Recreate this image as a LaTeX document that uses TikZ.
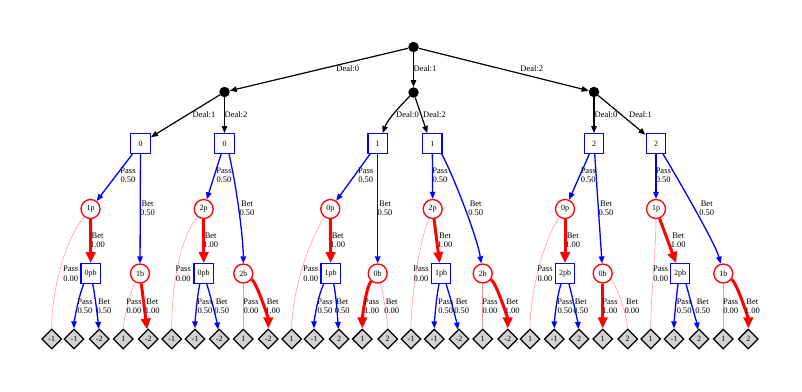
\documentclass[tikz,border=0pt]{standalone}
\usepackage{fontspec}
\setmainfont{Liberation Serif}
\usetikzlibrary{arrows.meta,shapes.geometric}
\newcommand\elab[3]{\node[lab] at (#1,#2) {#3};}
\begin{document}
\begin{tikzpicture}[x=1pt,y=-1pt,
  chance/.style={circle,fill=black,minimum size=10.5pt,inner sep=0pt},
  sq/.style={rectangle,draw=blue,line width=1.4pt,fill=white,minimum width=19.5pt,minimum height=19.5pt,inner sep=0pt,font=\fontsize{8}{9}\selectfont},
  rc/.style={circle,draw=red,line width=1.3pt,fill=white,minimum size=19pt,inner sep=0pt,font=\fontsize{8}{9}\selectfont},
  leaf/.style={diamond,draw=black,fill={rgb,255:red,211;green,211;blue,211},line width=1.3pt,minimum width=20pt,minimum height=20pt,inner sep=0pt,font=\fontsize{8}{9}\selectfont},
  lab/.style={align=center,inner sep=0pt,font=\fontsize{8.5}{9.3}\selectfont},
  dealE/.style={draw=black,line width=1.2pt,-{Triangle[length=7pt,width=5.5pt]}},
  blueE/.style={draw=blue,line width=1.3pt,-{Triangle[length=7pt,width=5.5pt]}},
  redE/.style={draw=red,line width=3pt,-{Triangle[length=11pt,width=9.5pt]}},
  pinkE/.style={draw={rgb,255:red,255;green,150;blue,150},line width=0.55pt}
]
\useasboundingbox (0,0) rectangle (802,391);
% chance nodes
\node[chance] (root) at (413.5,47) {};
\node[chance] (cL) at (224.5,92) {};
\node[chance] (cM) at (413.5,92.5) {};
\node[chance] (cR) at (594,92) {};
% player 0 first decision
\node[sq] (sA) at (140.5,143.5) {0};
\node[sq] (sB) at (224.5,143.5) {0};
\node[sq] (sC) at (377.7,143.5) {1};
\node[sq] (sD) at (432.3,143.5) {1};
\node[sq] (sE) at (594,143.5) {2};
\node[sq] (sF) at (656,143.5) {2};
% player 1
\node[rc] (pA) at (90.5,209) {1p};
\node[rc] (pB) at (203.7,209) {2p};
\node[rc] (pC) at (330.3,209) {0p};
\node[rc] (pD) at (432.7,209) {2p};
\node[rc] (pE) at (565,209) {0p};
\node[rc] (pF) at (656,209) {1p};
% level 4
\node[sq] (qA) at (90.7,273.5) {0pb};
\node[rc] (bA) at (140,273.5) {1b};
\node[sq] (qB) at (203.7,273.5) {0pb};
\node[rc] (bB) at (243.3,273.5) {2b};
\node[sq] (qC) at (330.7,273.5) {1pb};
\node[rc] (bC) at (377.7,273.5) {0b};
\node[sq] (qD) at (441,273.5) {1pb};
\node[rc] (bD) at (482.7,273.5) {2b};
\node[sq] (qE) at (565,273.5) {2pb};
\node[rc] (bE) at (602.7,273.5) {0b};
\node[sq] (qF) at (680,273.5) {2pb};
\node[rc] (bF) at (723.3,273.5) {1b};
% leaves
\foreach \n/\x/\t in {1/51.7/-1,2/74/-1,3/99.3/-2,4/123.3/1,5/148.3/-2,6/171.7/-1,7/195/-1,8/219.3/-2,9/243.3/1,10/268.3/-2,
  11/291.7/1,12/314/-1,13/339/2,14/362.3/1,15/387.7/2,16/411/-1,17/434.3/-1,18/459/-2,19/482.7/1,20/507.7/-2,
  21/530/1,22/554.3/-1,23/579/2,24/602.7/1,25/627.7/2,26/650.7/1,27/674/-1,28/699/2,29/723.3/1,30/748.3/2}
  {\node[leaf] (l\n) at (\x,339) {\t};}
% deal edges
\draw[dealE] (root) -- (cL);
\draw[dealE] (root) -- (cM);
\draw[dealE] (root) -- (cR);
\draw[dealE] (cL) -- (sA);
\draw[dealE] (cL) -- (sB);
\draw[dealE] (cM) .. controls +(-12,12) and +(5,-14) .. ([xshift=5pt]sC.north);
\draw[dealE] (cM) -- ([xshift=-5pt]sD.north);
\draw[dealE] (cR) -- (sE);
\draw[dealE] (cR) -- (sF);
\elab{347.7}{69}{Deal:0}
\elab{425}{69}{Deal:1}
\elab{531.7}{69}{Deal:2}
\elab{204}{115}{Deal:1}
\elab{236}{115}{Deal:2}
\elab{407.5}{115}{Deal:0}
\elab{434.5}{115}{Deal:2}
\elab{606}{115}{Deal:0}
\elab{640.5}{115}{Deal:1}
% first decisions (blue)
\draw[blueE] (sA) -- (pA);
\draw[blueE] (sA) -- (bA);
\draw[blueE] (sB) -- (pB);
\draw[blueE] ([xshift=4.5pt]sB.south) .. controls +(8,35) and +(0,-35) .. (bB);
\draw[blueE] (sC) -- (pC);
\draw[blueE] (sC) -- (bC);
\draw[blueE] (sD) -- (pD);
\draw[blueE] ([xshift=-1pt]sD.south east) .. controls +(14,27) and +(-5,-34) .. (bD);
\draw[blueE] (sE) -- (pE);
\draw[blueE] (sE) -- (bE);
\draw[blueE] (sF) -- (pF);
\draw[blueE] ([xshift=7pt]sF.south) .. controls +(15,25) and +(-8,-30) .. (bF);
\elab{128}{175.5}{Pass\\0.50}
\elab{147.5}{208.5}{Bet\\0.50}
\elab{224}{175.5}{Pass\\0.50}
\elab{247}{208.5}{Bet\\0.50}
\elab{365.7}{175.5}{Pass\\0.50}
\elab{385}{208.5}{Bet\\0.50}
\elab{440}{175.5}{Pass\\0.50}
\elab{475.7}{208.5}{Bet\\0.50}
\elab{588.3}{175.5}{Pass\\0.50}
\elab{606}{208.5}{Bet\\0.50}
\elab{663.3}{175.5}{Pass\\0.50}
\elab{706.7}{208.5}{Bet\\0.50}
% player 1 after pass
\draw[pinkE] (pA) .. controls +(-25.5,31) and +(0,-49) .. (l1);
\draw[redE] (pA) -- (qA);
\draw[pinkE] (pB) .. controls +(-25,31) and +(0,-49) .. (l6);
\draw[redE] (pB) -- (qB);
\draw[pinkE] (pC) .. controls +(-22,32) and +(0,-45) .. (l11);
\draw[redE] (pC) -- (qC);
\draw[pinkE] (pD) .. controls +(-14,35) and +(0,-40) .. (l16);
\draw[redE] (pD) -- (qD);
\draw[pinkE] (pE) .. controls +(-22,32) and +(0,-45) .. (l21);
\draw[redE] (pE) -- (qE);
\draw[pinkE] (pF) .. controls +(0,40) and +(0,-40) .. (l26);
\draw[redE] (pF) -- (qF);
\elab{70.7}{273.7}{Pass\\0.00}
\elab{97.5}{240.5}{Bet\\1.00}
\elab{183.3}{273.7}{Pass\\0.00}
\elab{210.7}{240.5}{Bet\\1.00}
\elab{310.7}{273.7}{Pass\\0.00}
\elab{337.7}{240.5}{Bet\\1.00}
\elab{421}{273.7}{Pass\\0.00}
\elab{445}{240.5}{Bet\\1.00}
\elab{545}{273.7}{Pass\\0.00}
\elab{572.7}{240.5}{Bet\\1.00}
\elab{660.7}{273.7}{Pass\\0.00}
\elab{678.3}{240.5}{Bet\\1.00}
% player 0 after pass-bet (blue)
\draw[blueE] ([xshift=-7pt]qA.south) .. controls +(-6,15) and +(0,-15) .. (l2);
\draw[blueE] ([xshift=2pt]qA.south) .. controls +(3,15) and +(-1,-15) .. (l3);
\draw[blueE] ([xshift=-4pt]qB.south) .. controls +(-3,15) and +(0,-15) .. (l7);
\draw[blueE] ([xshift=3pt]qB.south) .. controls +(5,15) and +(-2,-15) .. (l8);
\draw[blueE] ([xshift=-7pt]qC.south) .. controls +(-7,15) and +(0,-15) .. (l12);
\draw[blueE] ([xshift=3pt]qC.south) .. controls +(3,15) and +(-1,-15) .. (l13);
\draw[blueE] ([xshift=-2pt]qD.south) .. controls +(-3,15) and +(0,-15) .. (l17);
\draw[blueE] ([xshift=5pt]qD.south) .. controls +(5,15) and +(-2,-15) .. (l18);
\draw[blueE] ([xshift=-4pt]qE.south) .. controls +(-5,15) and +(0,-15) .. (l22);
\draw[blueE] ([xshift=4pt]qE.south) .. controls +(4,15) and +(-1,-15) .. (l23);
\draw[blueE] ([xshift=-2pt]qF.south) .. controls +(-2,15) and +(0,-15) .. (l27);
\draw[blueE] ([xshift=6pt]qF.south) .. controls +(4,15) and +(-2,-15) .. (l28);
% player 1 after bet
\draw[pinkE] (bA) .. controls +(-10,18) and +(0,-18) .. (l4);
\draw[redE] (bA) -- (l5);
\draw[pinkE] (bB) -- (l9);
\draw[redE] (bB) .. controls +(14,10) and +(0,-20) .. (l10);
\draw[redE] (bC) .. controls +(-12,14) and +(0,-20) .. (l14);
\draw[pinkE] (bC) .. controls +(5,18) and +(0,-18) .. (l15);
\draw[pinkE] (bD) -- (l19);
\draw[redE] (bD) .. controls +(14,10) and +(0,-20) .. (l20);
\draw[redE] (bE) -- (l24);
\draw[pinkE] (bE) .. controls +(14,10) and +(0,-20) .. (l25);
\draw[pinkE] (bF) -- (l29);
\draw[redE] (bF) .. controls +(14,10) and +(0,-20) .. (l30);
\elab{85}{306}{Pass\\0.50}
\elab{104}{306}{Bet\\0.50}
\elab{134}{306}{Pass\\0.00}
\elab{152.3}{306}{Bet\\1.00}
\elab{205}{306}{Pass\\0.50}
\elab{221.7}{306}{Bet\\0.50}
\elab{251}{306}{Pass\\0.00}
\elab{272.7}{306}{Bet\\1.00}
\elab{325}{306}{Pass\\0.50}
\elab{342.3}{306}{Bet\\0.50}
\elab{371.7}{306}{Pass\\1.00}
\elab{391.7}{306}{Bet\\0.00}
\elab{445.7}{306}{Pass\\0.50}
\elab{461.7}{306}{Bet\\0.50}
\elab{490}{306}{Pass\\0.00}
\elab{512.3}{306}{Bet\\1.00}
\elab{565}{306}{Pass\\0.50}
\elab{580.7}{306}{Bet\\0.50}
\elab{610}{306}{Pass\\1.00}
\elab{632}{306}{Bet\\0.00}
\elab{684.3}{306}{Pass\\0.50}
\elab{702.7}{306}{Bet\\0.50}
\elab{730.7}{306}{Pass\\0.00}
\elab{752.3}{306}{Bet\\1.00}
\end{tikzpicture}
\end{document}
